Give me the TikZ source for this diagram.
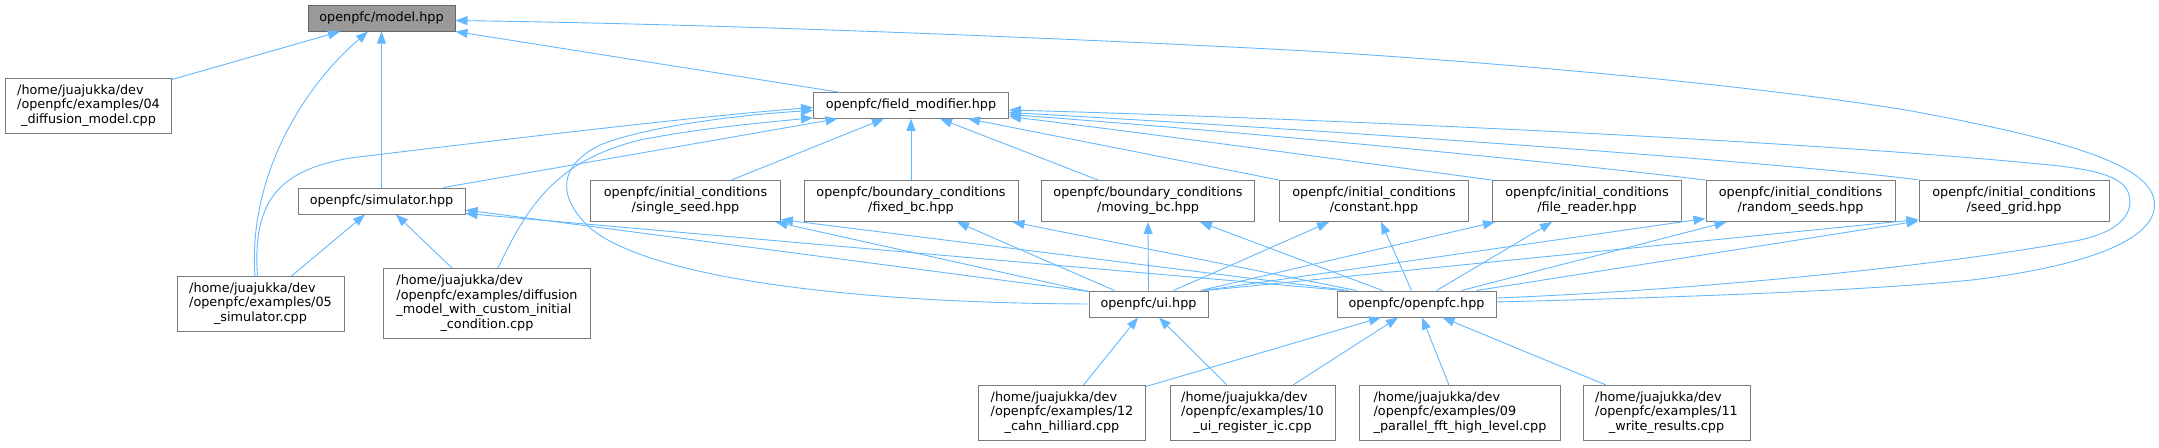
\documentclass[tikz,border=0pt]{standalone}
\usepackage{fontspec}
\setmainfont{DejaVu Sans}
\usetikzlibrary{arrows.meta,calc}
\definecolor{edgeblue}{HTML}{63B8FF}
\definecolor{boxgray}{HTML}{7A7A7A}
\definecolor{rootfill}{HTML}{999999}
\definecolor{rootdraw}{HTML}{666666}
\newcommand{\lblB}[2]{\begin{tabular}{@{}l@{}}#1\\\multicolumn{1}{@{}c@{}}{#2}\end{tabular}}
\newcommand{\lblC}[3]{\begin{tabular}{@{}l@{}}#1\\#2\\\multicolumn{1}{@{}c@{}}{#3}\end{tabular}}
\newcommand{\lblD}[4]{\begin{tabular}{@{}l@{}}#1\\#2\\#3\\\multicolumn{1}{@{}c@{}}{#4}\end{tabular}}
\begin{document}
\begin{tikzpicture}[x=1pt,y=-1pt,
  box/.style={draw=boxgray, fill=white, line width=1pt, inner sep=0pt,
    font=\fontsize{12.8}{14.8}\selectfont},
  rootbox/.style={box, fill=rootfill, draw=rootdraw},
  dep/.style={draw=edgeblue, line width=0.9pt, -{Triangle[length=12pt,width=9pt]}}]
\useasboundingbox (0,0) rectangle (2159,447);

% ---- nodes ----
\node[rootbox, minimum width=147pt, minimum height=26pt] (model) at (381.5,18) {openpfc/model.hpp};
\node[box, minimum width=166pt, minimum height=55pt] (d04) at (88.5,106) {\lblC{/home/juajukka/dev}{/openpfc/examples/04}{\_diffusion\_model.cpp}};
\node[box, minimum width=195pt, minimum height=25.5pt] (fmod) at (911,105.5) {openpfc/field\_modifier.hpp};
\node[box, minimum width=167pt, minimum height=26pt] (sim) at (381.5,201) {openpfc/simulator.hpp};
\node[box, minimum width=190pt, minimum height=41pt] (single) at (685.5,201) {\lblB{openpfc/initial\_conditions}{/single\_seed.hpp}};
\node[box, minimum width=214pt, minimum height=41pt] (fixed) at (911,201) {\lblB{openpfc/boundary\_conditions}{/fixed\_bc.hpp}};
\node[box, minimum width=213pt, minimum height=41pt] (moving) at (1148,201) {\lblB{openpfc/boundary\_conditions}{/moving\_bc.hpp}};
\node[box, minimum width=189pt, minimum height=41pt] (constant) at (1374,201) {\lblB{openpfc/initial\_conditions}{/constant.hpp}};
\node[box, minimum width=189pt, minimum height=41pt] (filer) at (1587,201) {\lblB{openpfc/initial\_conditions}{/file\_reader.hpp}};
\node[box, minimum width=189pt, minimum height=41pt] (random) at (1800.5,201) {\lblB{openpfc/initial\_conditions}{/random\_seeds.hpp}};
\node[box, minimum width=190pt, minimum height=41pt] (seedg) at (2014,201) {\lblB{openpfc/initial\_conditions}{/seed\_grid.hpp}};
\node[box, minimum width=167pt, minimum height=55pt] (d05) at (260.5,304) {\lblC{/home/juajukka/dev}{/openpfc/examples/05}{\_simulator.cpp}};
\node[box, minimum width=207pt, minimum height=70pt] (dcust) at (487,303.5) {\lblD{/home/juajukka/dev}{/openpfc/examples/diffusion}{\_model\_with\_custom\_initial}{\_condition.cpp}};
\node[box, minimum width=119pt, minimum height=26pt] (ui) at (1148.5,304) {openpfc/ui.hpp};
\node[box, minimum width=159pt, minimum height=26pt] (opfc) at (1416.5,304) {openpfc/openpfc.hpp};
\node[box, minimum width=167pt, minimum height=55pt] (d12) at (1062,413) {\lblC{/home/juajukka/dev}{/openpfc/examples/12}{\_cahn\_hilliard.cpp}};
\node[box, minimum width=165pt, minimum height=55pt] (d10) at (1252.5,413) {\lblC{/home/juajukka/dev}{/openpfc/examples/10}{\_ui\_register\_ic.cpp}};
\node[box, minimum width=201pt, minimum height=55pt] (d09) at (1460,413) {\lblC{/home/juajukka/dev}{/openpfc/examples/09}{\_parallel\_fft\_high\_level.cpp}};
\node[box, minimum width=167pt, minimum height=55pt] (d11) at (1666.5,413) {\lblC{/home/juajukka/dev}{/openpfc/examples/11}{\_write\_results.cpp}};

% ---- edges into model ----
\draw[dep] ($(d04.north east)+(0,1.5)$) -- ($(model.south)+(-41.5,0)$);
\draw[dep] ($(d05.north)+(-5.5,0)$) .. controls (248,180) and (300,90) .. ($(model.south)+(-13.5,0)$);
\draw[dep] (sim.north) -- (model.south);
\draw[dep] ($(fmod.north west)+(26.5,0)$) -- (model.south east);
\draw[dep] ($(opfc.east)+(0,-2)$) .. controls (1650,298) and (1850,292) .. (1972,280)
  .. controls (2110,263) and (2160,232) .. (2154,200)
  .. controls (2148,165) and (2070,140) .. (1906,110)
  .. controls (1750,85) and (1500,62) .. (1290,50)
  .. controls (1000,35) and (700,24) .. ($(model.east)+(0,2.5)$);

% ---- edges into field_modifier ----
\draw[dep] ($(opfc.east)+(0,-6)$) .. controls (1700,290) and (1950,265) .. (2080,240)
  .. controls (2125,230) and (2133,210) .. (2129,195)
  .. controls (2125,178) and (2100,170) .. (2050,165)
  .. controls (1800,140) and (1300,118) .. ($(fmod.east)+(0,4.5)$);
\draw[dep] (seedg.north west) .. controls (1850,170) and (1500,140) .. ($(fmod.east)+(0,7)$);
\draw[dep] (random.north west) .. controls (1640,172) and (1350,140) .. ($(fmod.east)+(0,9)$);
\draw[dep] (filer.north west) .. controls (1430,172) and (1200,140) .. ($(fmod.east)+(0,11)$);
\draw[dep] (constant.north west) -- ($(fmod.south)+(57,0)$);
\draw[dep] ($(moving.north)+(-50,0)$) -- ($(fmod.south)+(29,0)$);
\draw[dep] (fixed.north) -- (fmod.south);
\draw[dep] ($(single.north)+(46,0)$) -- ($(fmod.south)+(-27,0)$);
\draw[dep] ($(sim.north east)+(-22,0)$) -- ($(fmod.south west)+(24.5,0)$);
\draw[dep] ($(dcust.north)+(11,0)$) .. controls (530,200) and (560,160) .. (640,140)
  .. controls (700,128) and (770,122) .. ($(fmod.south west)+(0,-1)$);
\draw[dep] (ui.west) .. controls (850,303) and (650,278) .. (590,228)
  .. controls (555,195) and (560,165) .. (600,145)
  .. controls (650,125) and (750,114) .. ($(fmod.west)+(0,5)$);
\draw[dep] ($(d05.north)+(-3,0)$) .. controls (252,200) and (280,170) .. (350,158)
  .. controls (500,140) and (700,116) .. ($(fmod.west)+(0,2)$);

% ---- edges into simulator ----
\draw[dep] ($(d05.north)+(31,0)$) -- ($(sim.south)+(-16.5,0)$);
\draw[dep] ($(dcust.north)+(-35,0)$) -- ($(sim.south)+(14.5,0)$);
\draw[dep] ($(ui.north west)+(0,1)$) -- ($(sim.east)+(0,9)$);
\draw[dep] ($(opfc.north west)+(8,0)$) -- ($(sim.south east)+(0,-1)$);

% ---- ui / openpfc to middle row ----
\draw[dep] ($(ui.north west)+(0,1)$) -- ($(single.south east)+(-5.5,0)$);
\draw[dep] ($(opfc.north west)+(12,0)$) -- ($(single.south east)+(0,-2.5)$);
\draw[dep] ($(ui.north west)+(26,0)$) -- ($(fixed.south)+(46,0)$);
\draw[dep] ($(opfc.north west)+(20,0)$) -- ($(fixed.south east)+(-6,0)$);
\draw[dep] (ui.north) -- (moving.south);
\draw[dep] ($(opfc.north west)+(46,0)$) -- ($(moving.south)+(52,0)$);
\draw[dep] ($(ui.north)+(25,0)$) -- ($(constant.south west)+(50,0)$);
\draw[dep] ($(opfc.north)+(-5,0)$) -- ($(constant.south)+(7,0)$);
\draw[dep] ($(ui.north east)+(-8,0)$) -- ($(filer.south west)+(3,0)$);
\draw[dep] ($(opfc.north)+(20,0)$) -- ($(filer.south west)+(60,0)$);
\draw[dep] ($(ui.north east)+(-5,0)$) -- ($(random.south west)+(0,-3.5)$);
\draw[dep] ($(opfc.north)+(45,0)$) -- ($(random.south west)+(21,0)$);
\draw[dep] ($(ui.north east)+(-3,0)$) -- ($(seedg.south west)+(0,-2.5)$);
\draw[dep] ($(opfc.north east)+(-20,0)$) -- ($(seedg.south west)+(0,-1)$);

% ---- bottom row ----
\draw[dep] ($(d12.north)+(21.5,0)$) -- ($(ui.south)+(-10.5,0)$);
\draw[dep] ($(d10.north)+(-25.5,0)$) -- ($(ui.south)+(10.5,0)$);
\draw[dep] ($(d12.north east)+(0,1.5)$) -- ($(opfc.south)+(-35.5,0)$);
\draw[dep] ($(d10.north)+(40.5,0)$) -- ($(opfc.south)+(-18.5,0)$);
\draw[dep] ($(d09.north)+(-11,0)$) -- ($(opfc.south)+(5.5,0)$);
\draw[dep] ($(d11.north)+(-60.5,0)$) -- ($(opfc.south)+(26,0)$);
\end{tikzpicture}
\end{document}
